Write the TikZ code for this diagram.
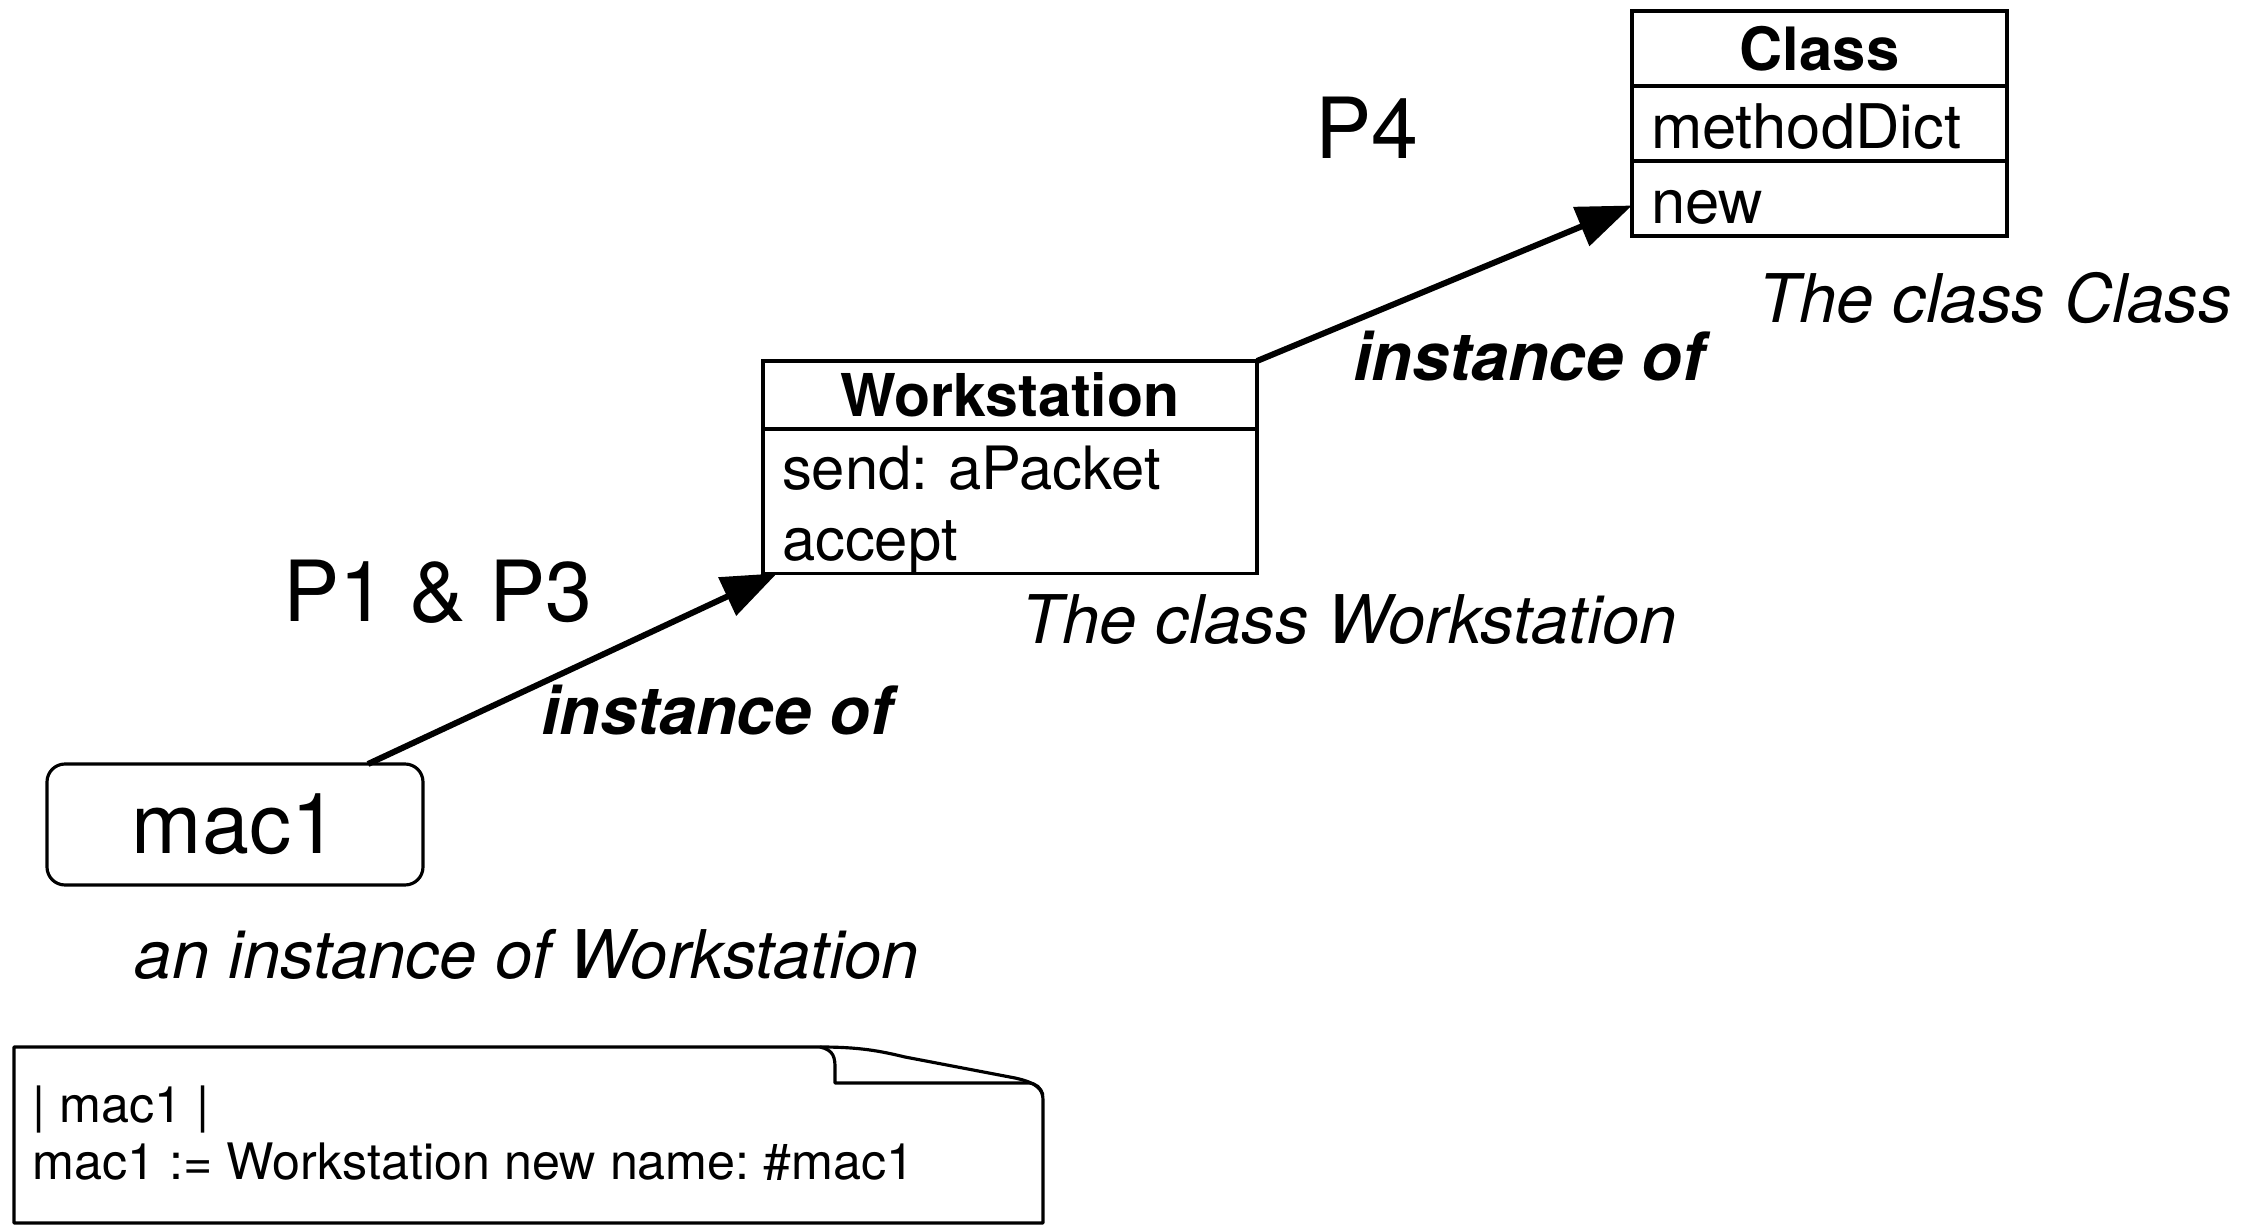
\documentclass[tikz,border=0pt]{standalone}
\usepackage{fontspec}
\setmainfont{TeX Gyre Heros}
\usetikzlibrary{arrows.meta, positioning, calc}
\frenchspacing
\tikzset{
    box/.style={draw=black, line width=0.9pt, inner xsep=0.19cm, inner ysep=0pt, outer sep=0pt},
    cname/.style={box, minimum height=0.75cm, minimum width=3.75cm, font=\fontsize{17}{20}\selectfont\bfseries},
    crow/.style={box, minimum height=0.75cm, text width=3.37cm, text height=0.5cm, text depth=0cm, align=left, font=\fontsize{17.5}{20}\selectfont},
    wname/.style={box, minimum height=0.68cm, minimum width=4.94cm, font=\fontsize{16.8}{20}\selectfont\bfseries},
    wrow/.style={box, minimum height=1.42cm, text width=4.56cm, text height=0.61cm, align=left, font=\fontsize{17}{20}\selectfont},
    obj/.style={box, rounded corners=0.18cm, minimum width=3.76cm, minimum height=1.21cm, font=\fontsize{24}{28}\selectfont},
    inst/.style={-{Triangle[length=0.55cm, width=0.41cm]}, line width=0.06cm},
    big/.style={inner sep=0pt, font=\fontsize{24}{28}\selectfont},
    capt/.style={inner sep=0pt, font=\fontsize{19.1}{22}\selectfont\itshape},
    rel/.style={inner sep=0pt, font=\fontsize{19}{22}\selectfont\bfseries\itshape},
    code/.style={inner sep=0pt, align=left, font=\fontsize{14.3}{16.3}\selectfont}
}
\begin{document}
\begin{tikzpicture}[x=0.1mm, y=-0.1mm]
    \useasboundingbox (0,0) rectangle (2249,1229);
    % the class Class
    \node[cname] (cls) at (1819.5,48.5) {Class};
    \node[crow, anchor=north] (cls-dict) at (cls.south) {methodDict};
    \node[crow, anchor=north] (cls-new) at (cls-dict.south) {new};
    \node[capt] (cls-cap) at (1995,298) {The class Class};
    % the class Workstation
    \node[wname] (ws) at (1010,395) {Workstation};
    \node[wrow, anchor=north] (ws-body) at (ws.south) {send: aPacket\\accept};
    \node[capt] (ws-cap) at (1349,620) {The class Workstation};
    % the instance
    \node[obj] (mac1) at (235,824.5) {mac1};
    \node[capt] (mac1-cap) at (527,954) {an instance of Workstation};
    \draw[inst] ($(mac1.north)+(133,0)$) -- ($(ws-body.south west)+(14,0)$);
    \draw[inst] (ws.north east) -- ($(cls-new.west)+(0,7)$);
    \node[big] (p13) at (438,592) {P1 \& P3};
    \node[big] (p4) at (1367,128) {P4};
    \node[rel] (inst1) at (717,710) {instance of};
    \node[rel] (inst2) at (1529,356) {instance of};
    % the note
    \draw[line width=0.9pt, line join=round]
        (14,1047) -- (820,1047) .. controls (860,1047) and (880,1051) .. (905,1057)
        -- (1015,1078) .. controls (1038,1083) and (1043,1090) .. (1043,1100)
        -- (1043,1223) -- (14,1223) -- cycle;
    \draw[line width=0.9pt, line join=round]
        (820,1047) .. controls (834,1050) and (835,1058) .. (835,1068)
        -- (835,1083) -- (1028,1083) .. controls (1036,1083) and (1041,1088) .. (1043,1095);
    \node[code, anchor=west] (note) at (32,1133) {| mac1 |\\mac1 := Workstation new name: \#mac1};
\end{tikzpicture}
\end{document}
